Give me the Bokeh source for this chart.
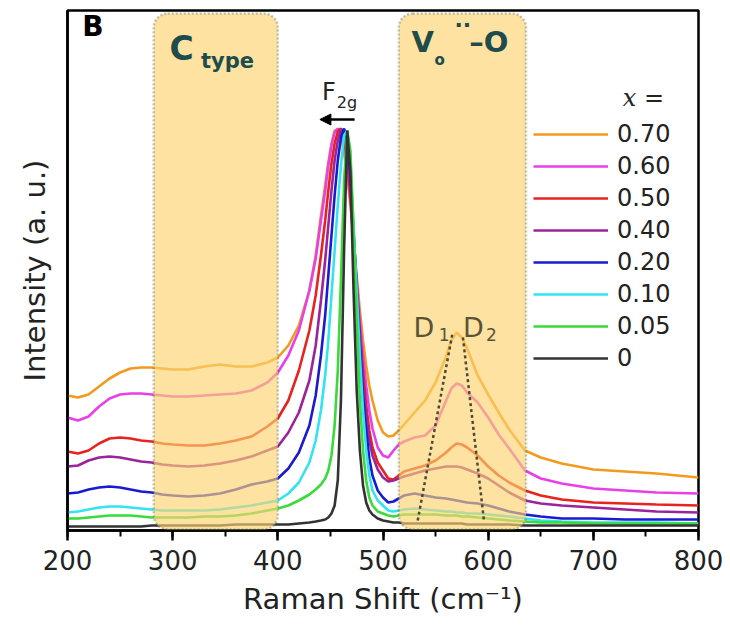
from bokeh.plotting import figure
from bokeh.models import (BoxAnnotation, Label, Legend, LegendItem, Arrow,
                          NormalHead, SingleIntervalTicker, FixedTicker)
from bokeh.embed import file_html
from bokeh.resources import INLINE

# ---------------- data ----------------
raman_shift = [200, 210, 220, 230, 240, 250, 260, 270, 280, 290,
               300, 315, 330, 345, 360, 375, 390, 400, 410, 420,
               430, 436, 441, 445, 448, 451, 454, 457, 460, 463,
               466, 469, 472, 475, 478, 481, 484, 487, 490, 495,
               500, 505, 510, 515, 520, 530, 540, 550, 560, 565,
               570, 575, 580, 590, 600, 610, 620, 635, 650, 670,
               700, 730, 760, 800]

int_070 = [135, 133, 136, 144, 152, 158, 162, 163, 163, 162,
           161, 161, 164, 166, 164, 164, 168, 173, 185, 205,
           240, 275, 315, 345, 368, 387, 400, 401, 393, 378,
           355, 325, 290, 255, 220, 190, 165, 145, 130, 110,
           98, 94, 95, 100, 106, 118, 130, 148, 174, 190,
           198, 193, 182, 155, 136, 118, 101, 80, 73, 67,
           61, 59, 57, 53]
int_060 = [113, 110, 114, 124, 132, 136, 137, 137, 136, 135,
           134, 134, 135, 136, 137, 140, 148, 158, 175, 200,
           240, 272, 310, 340, 365, 385, 398, 402, 397, 382,
           360, 330, 290, 250, 210, 175, 145, 120, 102, 83,
           75, 73, 80, 86, 89, 93, 95, 105, 130, 142,
           147, 145, 138, 128, 113, 96, 82, 60, 52, 47,
           42, 40, 38, 37]
int_050 = [79, 77, 80, 87, 92, 93, 92, 90, 89, 87,
           86, 85, 85, 87, 90, 94, 104, 112, 130, 160,
           200, 235, 275, 310, 340, 367, 387, 399, 402, 392,
           370, 335, 290, 245, 200, 160, 125, 100, 83, 68,
           60, 52, 51, 55, 59, 62, 65, 70, 78, 83,
           87, 86, 83, 75, 64, 55, 48, 40, 35, 31,
           28, 27, 26, 25]
int_040 = [64, 65, 70, 73, 74, 73, 71, 69, 68, 66,
           65, 64, 65, 67, 70, 74, 80, 84, 98, 118,
           150, 185, 230, 270, 305, 340, 370, 390, 401, 398,
           380, 345, 295, 245, 195, 150, 115, 90, 75, 61,
           53, 49, 50, 52, 54, 57, 60, 62, 64, 64,
           64, 63, 61, 57, 52, 45, 38, 30, 27, 25,
           23, 21, 19, 18]
int_020 = [37, 38, 41, 43, 44, 43, 41, 39, 38, 36,
           35, 34, 35, 37, 41, 46, 49, 52, 62, 78,
           105, 135, 175, 215, 255, 295, 335, 370, 393, 402,
           390, 355, 300, 240, 185, 135, 100, 72, 55, 40,
           33, 28, 29, 32, 35, 37, 35, 33, 32, 31,
           30, 29, 28, 27, 25, 22, 19, 16, 14, 12,
           12, 11, 11, 11]
int_010 = [18, 19, 21, 23, 24, 24, 23, 22, 21, 20,
           20, 20, 20, 21, 23, 25, 28, 30, 37, 48,
           68, 90, 120, 155, 190, 235, 280, 325, 365, 395,
           400, 370, 305, 240, 175, 120, 80, 55, 40, 30,
           25, 20, 19, 20, 21, 22, 21, 20, 19, 19,
           18, 18, 17, 17, 16, 15, 14, 12, 10, 9,
           8, 8, 8, 7]
int_005 = [12, 12, 13, 14, 15, 15, 15, 14, 13, 13,
           13, 13, 14, 14, 15, 17, 20, 22, 25, 30,
           36, 41, 46, 52, 60, 75, 105, 160, 250, 350,
           400, 380, 300, 210, 130, 80, 50, 33, 25, 19,
           17, 15, 14, 15, 16, 16, 16, 16, 15, 15,
           15, 14, 14, 13, 12, 11, 10, 9, 8, 8,
           7, 7, 7, 7]
int_000 = [4, 4, 4, 4, 4, 4, 4, 4, 5, 5,
           5, 5, 5, 5, 6, 6, 6, 6, 6, 7,
           8, 9, 10, 11, 13, 17, 25, 50, 130, 280,
           400, 360, 240, 140, 80, 45, 28, 20, 16, 12,
           10, 9, 8, 8, 7, 7, 7, 7, 7, 7,
           7, 7, 6, 6, 6, 6, 6, 5, 5, 5,
           5, 5, 5, 5]

series_labels = ["0.70", "0.60", "0.50", "0.40", "0.20", "0.10", "0.05", "0"]
series_values = [int_070, int_060, int_050, int_040, int_020, int_010, int_005, int_000]
series_colors = ["#F39A1E", "#E840E8", "#E8231F", "#9B249B",
                 "#1A1AD2", "#33E3F2", "#3ADA3A", "#333333"]

# D1 / D2 deconvolution guide lines
d1_x = [533, 566]
d1_y = [10, 197]
d2_x = [576, 596]
d2_y = [193, 10]

# highlighted regions (Raman shift ranges)
ctype_range = (282, 400)
vo_range = (515, 636)

x_ticks_interval = 100

# ---------------- figure ----------------
p = figure(width=730, height=627, x_range=(200, 800), y_range=(0, 520),
           output_backend="svg", toolbar_location=None,
           min_border_left=67, min_border_right=32,
           min_border_top=10, min_border_bottom=97)
p.background_fill_color = "white"
p.border_fill_color = "white"
p.grid.visible = False
p.outline_line_color = "black"
p.outline_line_width = 2.5

FONT = "DejaVu Sans"

p.xaxis.ticker = SingleIntervalTicker(interval=x_ticks_interval, num_minor_ticks=2)
p.xaxis.axis_line_width = 2.5
p.xaxis.axis_line_color = "black"
p.xaxis.major_tick_line_width = 2.5
p.xaxis.minor_tick_line_width = 2
p.xaxis.major_tick_out = 10
p.xaxis.major_tick_in = 0
p.xaxis.minor_tick_out = 6
p.xaxis.minor_tick_in = 0
p.xaxis.major_label_text_font = FONT
p.xaxis.major_label_text_font_size = "26px"
p.xaxis.major_label_text_color = "#222222"
p.xaxis.major_label_standoff = 9
p.xaxis.axis_label = "Raman Shift (cm\u207b\u00b9)"
p.xaxis.axis_label_text_font = FONT
p.xaxis.axis_label_text_font_size = "29px"
p.xaxis.axis_label_text_font_style = "normal"
p.xaxis.axis_label_text_color = "#222222"
p.xaxis.axis_label_standoff = 9

p.yaxis.ticker = FixedTicker(ticks=[])
p.yaxis.axis_line_width = 2.5
p.yaxis.axis_line_color = "black"
p.yaxis.major_label_text_font_size = "0px"
p.yaxis.axis_label = "Intensity (a. u.)"
p.yaxis.axis_label_text_font = FONT
p.yaxis.axis_label_text_font_size = "29px"
p.yaxis.axis_label_text_font_style = "normal"
p.yaxis.axis_label_text_color = "#222222"
p.yaxis.axis_label_standoff = 16

# curves
renderers = []
for lab, vals, col in zip(series_labels, series_values, series_colors):
    r = p.line(raman_shift, vals, line_color=col, line_width=2.6)
    renderers.append(r)

# highlight boxes (semi-transparent, drawn over the curves)
for lo, hi in (ctype_range, vo_range):
    p.add_layout(BoxAnnotation(left=lo, right=hi, bottom=1, top=517,
                               fill_color="#FCD36E", fill_alpha=0.65,
                               line_color="#2B4F4F", line_width=2.5,
                               line_dash="2 2", border_radius=14))

# D1/D2 dotted lines
OLIVE = "#4F4832"
p.line(d1_x, d1_y, line_color=OLIVE, line_width=2.5, line_dash="3 3", level="overlay")
p.line(d2_x, d2_y, line_color=OLIVE, line_width=2.5, line_dash="3 3", level="overlay")

for txt, x, y, size in [("D", 529, 203, "27px"), ("1", 553, 196, "17px"),
                        ("D", 576, 203, "27px"), ("2", 598, 196, "17px")]:
    p.add_layout(Label(x=x, y=y, text=txt, text_font=FONT, text_font_size=size,
                       text_color="#5B5335", text_baseline="alphabetic"))

TEAL = "#1E4B4B"
# C_type label
p.add_layout(Label(x=297, y=463, text="C", text_font=FONT, text_font_size="33px",
                   text_font_style="bold", text_color=TEAL))
p.add_layout(Label(x=327, y=458, text="type", text_font=FONT, text_font_size="21px",
                   text_font_style="bold", text_color=TEAL))
# Vo''-O label
p.add_layout(Label(x=527, y=472, text="V", text_font=FONT, text_font_size="29px",
                   text_font_style="bold", text_color=TEAL))
p.add_layout(Label(x=549, y=462, text="o", text_font=FONT, text_font_size="15px",
                   text_font_style="bold", text_color=TEAL))
p.add_layout(Label(x=568, y=494, text="\u00b7\u00b7", text_font=FONT, text_font_size="22px",
                   text_font_style="bold", text_color=TEAL))
p.add_layout(Label(x=582, y=472, text="\u2013O", text_font=FONT, text_font_size="29px",
                   text_font_style="bold", text_color=TEAL))

# panel letter
p.add_layout(Label(x=214, y=488, text="B", text_font=FONT, text_font_size="28px",
                   text_font_style="bold", text_color="black"))

# F2g label and arrow
p.add_layout(Label(x=442, y=425, text="F", text_font=FONT, text_font_size="24px",
                   text_color="#222222"))
p.add_layout(Label(x=456, y=419, text="2g", text_font=FONT, text_font_size="16px",
                   text_color="#222222"))
p.add_layout(Arrow(end=NormalHead(size=11, fill_color="black", line_color="black"),
                   x_start=473, y_start=411, x_end=440, y_end=411,
                   line_width=2.5, line_color="black"))

# legend title
p.add_layout(Label(x=728, y=433, text="x =", text_font="DejaVu Serif",
                   text_font_size="24px", text_font_style="italic",
                   text_color="#222222", text_baseline="middle"))

legend = Legend(items=[LegendItem(label=l, renderers=[r]) for l, r in zip(series_labels, renderers)],
                location=(466, 158), padding=0, margin=0, spacing=4,
                glyph_width=75, glyph_height=28, label_height=28,
                label_standoff=9, label_text_font=FONT,
                label_text_font_size="24px", label_text_color="#222222",
                border_line_color=None, background_fill_alpha=0)
p.add_layout(legend)

open("out.html", "w").write(file_html(p, INLINE))
